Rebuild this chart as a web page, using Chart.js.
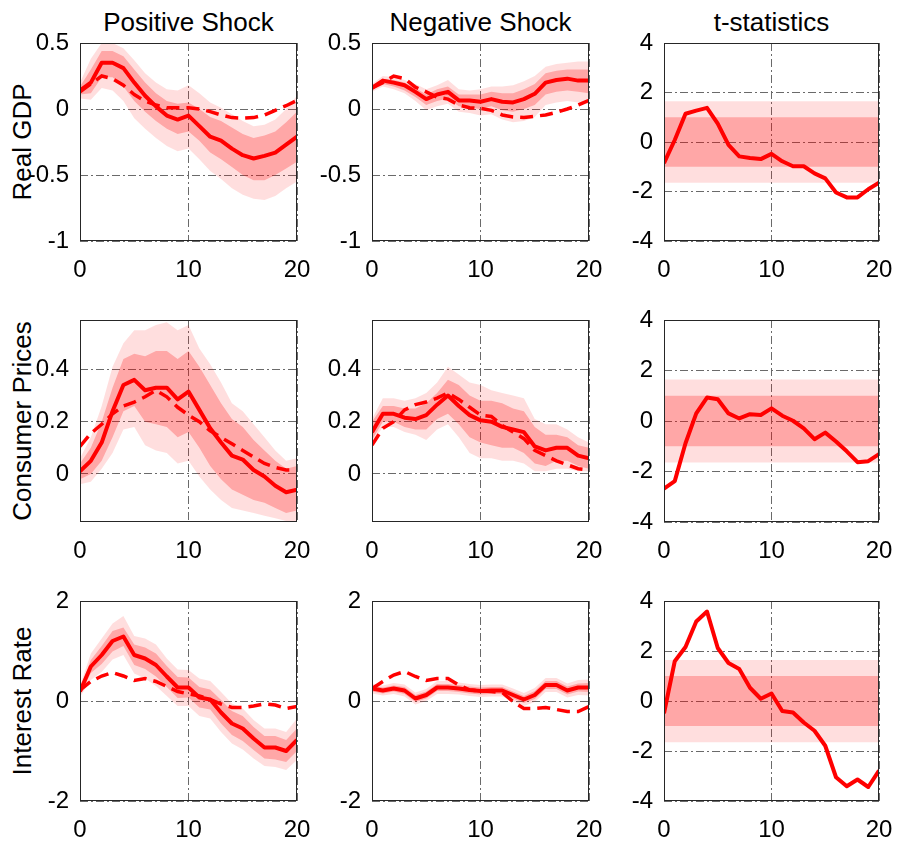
<!DOCTYPE html>
<html>
<head>
<meta charset="utf-8">
<script src="https://cdn.jsdelivr.net/npm/chart.js@4/dist/chart.umd.min.js"></script>
<style>
  body { margin: 0; background: #fff; }
  #wrap { position: relative; width: 902px; height: 847px; font-family: "Liberation Sans", Arial, sans-serif; color: #000; }
  #wrap canvas { position: absolute; }
  .ctitle { position: absolute; top: 9px; font-size: 26px; line-height: 26px; white-space: nowrap; transform: translateX(-50%); }
  .ylab { position: absolute; font-size: 26px; line-height: 26px; white-space: nowrap; transform: translate(-50%, -50%) rotate(-90deg); }
</style>
</head>
<body>
<div id="wrap"></div>
<script>
var horizon = [0,1,2,3,4,5,6,7,8,9,10,11,12,13,14,15,16,17,18,19,20];
var colTitles = ['Positive Shock', 'Negative Shock', 't-statistics'];
var rowTitles = ['Real GDP', 'Consumer Prices', 'Interest Rate'];

// Real GDP - positive shock
var gdpPos      = [0.14,0.20,0.35,0.35,0.31,0.20,0.10,0.02,-0.05,-0.08,-0.05,-0.13,-0.21,-0.24,-0.30,-0.35,-0.375,-0.355,-0.33,-0.27,-0.21];
var gdpPosLin   = [0.13,0.19,0.25,0.23,0.18,0.11,0.06,0.03,0.01,0.01,0.01,0.0,-0.02,-0.045,-0.065,-0.07,-0.065,-0.045,-0.01,0.025,0.065];
var gdpPosIn68  = [0.17,0.30,0.44,0.44,0.40,0.30,0.20,0.12,0.06,0.04,0.05,0.0,-0.06,-0.09,-0.14,-0.19,-0.22,-0.20,-0.17,-0.10,-0.02];
var gdpPosLo68  = [0.11,0.12,0.24,0.24,0.17,0.06,-0.02,-0.09,-0.15,-0.19,-0.17,-0.24,-0.33,-0.38,-0.44,-0.50,-0.54,-0.54,-0.50,-0.45,-0.40];
var gdpPosHi90  = [0.20,0.38,0.50,0.50,0.46,0.37,0.27,0.20,0.15,0.14,0.18,0.12,0.05,0.01,-0.04,-0.09,-0.13,-0.12,-0.08,0.0,0.10];
var gdpPosLo90  = [0.08,0.07,0.16,0.14,0.06,-0.07,-0.15,-0.22,-0.28,-0.32,-0.30,-0.38,-0.47,-0.53,-0.60,-0.65,-0.68,-0.69,-0.66,-0.60,-0.55];
// Real GDP - negative shock
var gdpNeg      = [0.16,0.215,0.20,0.18,0.13,0.075,0.11,0.13,0.065,0.065,0.055,0.075,0.055,0.05,0.075,0.115,0.20,0.22,0.23,0.215,0.215];
var gdpNegLin   = [0.16,0.20,0.25,0.23,0.165,0.13,0.09,0.075,0.03,0.01,0.005,-0.01,-0.045,-0.06,-0.065,-0.055,-0.045,-0.025,0.0,0.03,0.065];
var gdpNegIn68  = [0.18,0.23,0.22,0.20,0.16,0.11,0.15,0.17,0.11,0.11,0.11,0.13,0.12,0.12,0.15,0.19,0.27,0.29,0.30,0.30,0.30];
var gdpNegLo68  = [0.14,0.19,0.17,0.14,0.09,0.03,0.06,0.08,0.02,0.01,0.0,0.02,-0.01,-0.02,0.0,0.03,0.11,0.13,0.14,0.13,0.12];
var gdpNegHi90  = [0.19,0.25,0.24,0.22,0.19,0.15,0.18,0.22,0.15,0.14,0.15,0.17,0.17,0.18,0.21,0.25,0.32,0.34,0.35,0.36,0.36];
var gdpNegLo90  = [0.13,0.17,0.15,0.12,0.06,-0.01,0.02,0.04,-0.02,-0.03,-0.05,-0.04,-0.08,-0.10,-0.09,-0.06,0.03,0.05,0.06,0.05,0.04];
var gdpT        = [-0.85,0.08,1.14,1.27,1.38,0.74,-0.12,-0.58,-0.65,-0.69,-0.48,-0.78,-0.98,-0.98,-1.27,-1.47,-2.04,-2.24,-2.24,-1.91,-1.64];

// Consumer prices
var cpiPos      = [0.01,0.05,0.12,0.24,0.34,0.36,0.32,0.33,0.33,0.285,0.315,0.245,0.175,0.12,0.07,0.055,0.015,-0.01,-0.045,-0.07,-0.06];
var cpiPosLin   = [0.105,0.155,0.19,0.23,0.26,0.275,0.295,0.32,0.295,0.255,0.225,0.20,0.165,0.14,0.115,0.09,0.065,0.04,0.025,0.015,0.015];
var cpiPosHi68  = [0.04,0.10,0.20,0.33,0.44,0.46,0.45,0.47,0.47,0.44,0.47,0.41,0.34,0.27,0.21,0.18,0.13,0.09,0.05,0.02,0.03];
var cpiPosLo68  = [-0.02,0.0,0.05,0.14,0.24,0.26,0.20,0.19,0.18,0.14,0.16,0.10,0.03,-0.02,-0.06,-0.08,-0.10,-0.11,-0.13,-0.15,-0.14];
var cpiPosHi90  = [0.06,0.14,0.26,0.41,0.50,0.55,0.55,0.57,0.58,0.55,0.57,0.48,0.42,0.35,0.27,0.24,0.19,0.14,0.09,0.05,0.06];
var cpiPosLo90  = [-0.04,-0.03,0.02,0.08,0.17,0.18,0.11,0.09,0.08,0.04,0.05,-0.01,-0.06,-0.10,-0.13,-0.14,-0.15,-0.16,-0.17,-0.18,-0.18];
var cpiNeg      = [0.16,0.23,0.23,0.215,0.21,0.225,0.265,0.30,0.26,0.225,0.205,0.20,0.18,0.17,0.16,0.105,0.09,0.10,0.10,0.07,0.06];
var cpiNegLin   = [0.11,0.175,0.20,0.245,0.265,0.275,0.29,0.31,0.285,0.255,0.225,0.22,0.185,0.16,0.135,0.09,0.07,0.05,0.035,0.02,0.015];
var cpiNegHi68  = [0.20,0.26,0.26,0.25,0.25,0.27,0.31,0.36,0.34,0.30,0.28,0.28,0.27,0.25,0.24,0.18,0.15,0.15,0.14,0.11,0.10];
var cpiNegLo68  = [0.13,0.20,0.20,0.18,0.17,0.17,0.21,0.23,0.19,0.14,0.12,0.11,0.10,0.10,0.08,0.04,0.03,0.05,0.05,0.03,0.02];
var cpiNegHi90  = [0.21,0.29,0.29,0.28,0.29,0.31,0.35,0.41,0.38,0.35,0.34,0.32,0.31,0.30,0.29,0.21,0.19,0.19,0.17,0.14,0.12];
var cpiNegLo90  = [0.12,0.18,0.18,0.16,0.15,0.13,0.17,0.19,0.14,0.08,0.06,0.06,0.05,0.05,0.04,0.01,0.01,0.02,0.02,0.01,0.01];
var cpiT        = [-2.68,-2.38,-0.88,0.30,0.93,0.86,0.30,0.10,0.27,0.24,0.50,0.21,0.01,-0.29,-0.72,-0.46,-0.81,-1.20,-1.63,-1.59,-1.31];

// Interest rate
var ratePos     = [0.19,0.69,0.92,1.20,1.29,0.92,0.85,0.72,0.49,0.27,0.27,0.07,0.03,-0.23,-0.45,-0.55,-0.75,-0.93,-0.93,-1.0,-0.78];
var ratePosLin  = [0.22,0.39,0.50,0.57,0.50,0.41,0.45,0.39,0.29,0.19,0.14,0.10,0.03,-0.06,-0.13,-0.13,-0.10,-0.06,-0.08,-0.15,-0.11];
var ratePosHi68 = [0.26,0.82,1.10,1.40,1.47,1.13,1.07,0.95,0.70,0.48,0.47,0.28,0.23,0.02,-0.20,-0.30,-0.52,-0.70,-0.70,-0.78,-0.55];
var ratePosLo68 = [0.12,0.56,0.74,0.99,1.10,0.72,0.64,0.49,0.28,0.06,0.07,-0.13,-0.17,-0.45,-0.68,-0.80,-0.98,-1.15,-1.17,-1.22,-1.0];
var ratePosHi90 = [0.30,0.95,1.25,1.55,1.70,1.30,1.25,1.13,0.85,0.63,0.62,0.45,0.40,0.18,-0.05,-0.15,-0.38,-0.55,-0.55,-0.62,-0.35];
var ratePosLo90 = [0.08,0.42,0.58,0.83,0.92,0.55,0.45,0.30,0.10,-0.10,-0.10,-0.30,-0.35,-0.62,-0.85,-0.97,-1.15,-1.30,-1.32,-1.38,-1.18];
var rateNeg     = [0.25,0.21,0.25,0.21,0.05,0.12,0.27,0.27,0.25,0.22,0.20,0.21,0.21,0.12,0.03,0.12,0.32,0.32,0.21,0.27,0.27];
var rateNegLin  = [0.25,0.39,0.52,0.59,0.49,0.41,0.45,0.45,0.32,0.22,0.20,0.19,0.17,-0.01,-0.15,-0.15,-0.13,-0.17,-0.21,-0.21,-0.11];
var rateNegHi68 = [0.31,0.27,0.31,0.28,0.12,0.19,0.34,0.34,0.32,0.29,0.27,0.28,0.28,0.19,0.10,0.20,0.40,0.40,0.29,0.35,0.36];
var rateNegLo68 = [0.19,0.15,0.19,0.14,-0.02,0.05,0.20,0.20,0.18,0.15,0.13,0.14,0.14,0.05,-0.04,0.04,0.24,0.24,0.13,0.19,0.18];
var rateNegHi90 = [0.35,0.31,0.36,0.33,0.17,0.24,0.40,0.40,0.37,0.34,0.32,0.33,0.33,0.25,0.16,0.26,0.46,0.46,0.35,0.42,0.43];
var rateNegLo90 = [0.15,0.11,0.14,0.09,-0.07,0.0,0.14,0.14,0.13,0.10,0.08,0.09,0.09,-0.01,-0.10,-0.02,0.18,0.18,0.07,0.12,0.11];
var rateT       = [-0.49,1.59,2.16,3.18,3.58,2.12,1.52,1.28,0.53,0.09,0.30,-0.40,-0.46,-0.86,-1.19,-1.79,-3.05,-3.41,-3.14,-3.44,-2.78];

// axis limits and ticks per row
var rowYMin = [-1, -0.184, -2];
var rowYMax = [0.5, 0.589, 2];
var rowYTicks = [[-1, -0.5, 0, 0.5], [0, 0.2, 0.4], [-2, 0, 2]];
var tYTicks = [-4, -2, 0, 2, 4];
var xTicks = [0, 10, 20];
var tBand68 = 1;
var tBand90 = 1.645;

// panel placement (plot area in page pixels)
var colLeft = [80, 372, 664];
var colWidth = [217, 217, 215];
var rowTop = [43, 320, 601];
var rowHeight = [198, 202, 200];

var panels = [
  { row: 0, col: 0, line: gdpPos, lin: gdpPosLin, hi68: gdpPosIn68, lo68: gdpPosLo68, hi90: gdpPosHi90, lo90: gdpPosLo90 },
  { row: 0, col: 1, line: gdpNeg, lin: gdpNegLin, hi68: gdpNegIn68, lo68: gdpNegLo68, hi90: gdpNegHi90, lo90: gdpNegLo90 },
  { row: 0, col: 2, tstat: gdpT },
  { row: 1, col: 0, line: cpiPos, lin: cpiPosLin, hi68: cpiPosHi68, lo68: cpiPosLo68, hi90: cpiPosHi90, lo90: cpiPosLo90 },
  { row: 1, col: 1, line: cpiNeg, lin: cpiNegLin, hi68: cpiNegHi68, lo68: cpiNegLo68, hi90: cpiNegHi90, lo90: cpiNegLo90 },
  { row: 1, col: 2, tstat: cpiT },
  { row: 2, col: 0, line: ratePos, lin: ratePosLin, hi68: ratePosHi68, lo68: ratePosLo68, hi90: ratePosHi90, lo90: ratePosLo90 },
  { row: 2, col: 1, line: rateNeg, lin: rateNegLin, hi68: rateNegHi68, lo68: rateNegLo68, hi90: rateNegHi90, lo90: rateNegLo90 },
  { row: 2, col: 2, tstat: rateT }
];

var red = '#ff0000';
var band68 = 'rgba(255,0,0,0.25)';
var band90 = 'rgba(255,0,0,0.13)';
var gridColor = '#6a6a6a';
var fontFamily = '"Liberation Sans", Arial, sans-serif';

var wrap = document.getElementById('wrap');

function toXY(arr) {
  return arr.map(function (v, i) { return { x: horizon[i], y: v }; });
}
function flat(v) {
  return [{ x: horizon[0], y: v }, { x: horizon[horizon.length - 1], y: v }];
}
function band(data, color, fill) {
  return { data: data, borderWidth: 0, pointRadius: 0, backgroundColor: color, fill: fill, tension: 0 };
}
function plainTick(v) { return String(v); }

// MATLAB-style box round the axes
var boxPlugin = {
  id: 'box',
  afterDatasetsDraw: function (chart) {
    var a = chart.chartArea, c = chart.ctx;
    c.save();
    c.strokeStyle = '#262626';
    c.lineWidth = 1;
    c.strokeRect(Math.round(a.left) + 0.5, Math.round(a.top) + 0.5, Math.round(a.right - a.left) - 1, Math.round(a.bottom - a.top) - 1);
    c.restore();
  }
};

colTitles.forEach(function (t, c) {
  var d = document.createElement('div');
  d.className = 'ctitle';
  d.textContent = t;
  d.style.left = (colLeft[c] + colWidth[c] / 2) + 'px';
  wrap.appendChild(d);
});
rowTitles.forEach(function (t, r) {
  var d = document.createElement('div');
  d.className = 'ylab';
  d.textContent = t;
  d.style.left = '22px';
  d.style.top = (rowTop[r] + rowHeight[r] / 2) + 'px';
  wrap.appendChild(d);
});

// room round the plot area inside each canvas (kept larger than the label overhang)
var padL = 70, padT = 32, padR = 36, padB = 55;

panels.forEach(function (p) {
  var cv = document.createElement('canvas');
  cv.width = colWidth[p.col] + padL + padR;
  cv.height = rowHeight[p.row] + padT + padB;
  cv.style.left = (colLeft[p.col] - padL) + 'px';
  cv.style.top = (rowTop[p.row] - padT) + 'px';
  wrap.appendChild(cv);

  var datasets, yMin, yMax, yTicks;
  if (p.tstat) {
    datasets = [
      { data: toXY(p.tstat), borderColor: red, borderWidth: 4, pointRadius: 0, fill: false, tension: 0, borderJoinStyle: 'round' },
      band(flat(-tBand68), band68, false),
      band(flat(tBand68), band68, 1),
      band(flat(-tBand90), band90, false),
      band(flat(tBand90), band90, 3)
    ];
    yMin = -4; yMax = 4; yTicks = tYTicks;
  } else {
    datasets = [
      { data: toXY(p.line), borderColor: red, borderWidth: 4, pointRadius: 0, fill: false, tension: 0, borderJoinStyle: 'round' },
      { data: toXY(p.lin), borderColor: red, borderWidth: 3.5, borderDash: [13, 7], pointRadius: 0, fill: false, tension: 0 },
      band(toXY(p.lo68), band68, false),
      band(toXY(p.hi68), band68, 2),
      band(toXY(p.lo90), band90, false),
      band(toXY(p.hi90), band90, 4)
    ];
    yMin = rowYMin[p.row]; yMax = rowYMax[p.row]; yTicks = rowYTicks[p.row];
  }

  new Chart(cv, {
    type: 'line',
    data: { datasets: datasets },
    options: {
      responsive: false,
      animation: false,
      layout: { padding: { left: 0, top: padT, right: padR, bottom: 0 } },
      plugins: { legend: { display: false }, tooltip: { enabled: false } },
      scales: {
        x: {
          type: 'linear', min: 0, max: 20,
          afterBuildTicks: function (s) { s.ticks = xTicks.map(function (v) { return { value: v }; }); },
          afterFit: function (s) { s.height = padB; },
          grid: { color: gridColor, lineWidth: 1, drawTicks: false },
          border: { display: false, dash: [8, 3, 2, 3] },
          ticks: { color: '#000', font: { family: fontFamily, size: 24 }, padding: 15, maxRotation: 0, autoSkip: false, callback: plainTick }
        },
        y: {
          min: yMin, max: yMax,
          afterBuildTicks: function (s) { s.ticks = yTicks.map(function (v) { return { value: v }; }); },
          afterFit: function (s) { s.width = padL; },
          grid: { color: gridColor, lineWidth: 1, drawTicks: false },
          border: { display: false, dash: [8, 3, 2, 3] },
          ticks: { color: '#000', font: { family: fontFamily, size: 24 }, padding: 11, autoSkip: false, callback: plainTick }
        }
      }
    },
    plugins: [boxPlugin]
  });
});
</script>
</body>
</html>
